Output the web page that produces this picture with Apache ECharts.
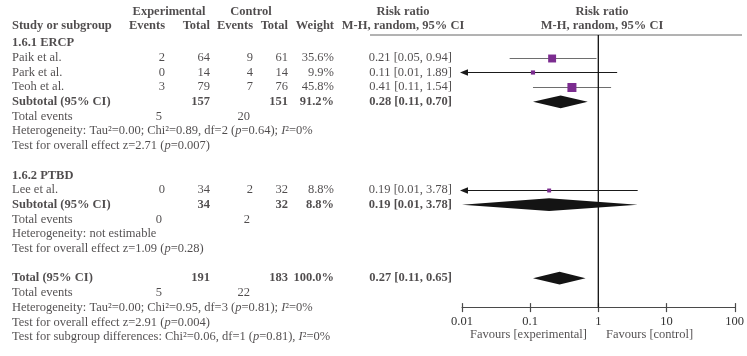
<!DOCTYPE html>
<html><head><meta charset="utf-8">
<script src="https://cdn.jsdelivr.net/npm/echarts@6/dist/echarts.min.js"></script>
<style>html,body{margin:0;padding:0;background:#fff}#c{width:747px;height:356px}</style>
</head><body><div id="c"></div>
<script>
// ---------- data ----------
const studies      = ['Paik et al.', 'Park et al.', 'Teoh et al.', 'Lee et al.'];
const studyGroup   = [0, 0, 0, 1];
const expEvents    = [2, 0, 3, 0];
const expTotal     = [64, 14, 79, 34];
const ctrlEvents   = [9, 4, 7, 2];
const ctrlTotal    = [61, 14, 76, 32];
const weights      = [35.6, 9.9, 45.8, 8.8];
const rr           = [0.21, 0.11, 0.41, 0.19];
const rrLow        = [0.05, 0.01, 0.11, 0.01];
const rrHigh       = [0.94, 1.89, 1.54, 3.78];

const groups          = ['1.6.1 ERCP', '1.6.2 PTBD'];
const groupExpEvents  = [5, 0];
const groupExpTotal   = [157, 34];
const groupCtrlEvents = [20, 2];
const groupCtrlTotal  = [151, 32];
const groupWeight     = [91.2, 8.8];
const groupRR         = [0.28, 0.19];
const groupLow        = [0.11, 0.01];
const groupHigh       = [0.70, 3.78];
const groupHeterogeneity = ['Heterogeneity: Tau²=0.00; Chi²=0.89, df=2 ({i|p}=0.64); {i|I}²=0%',
                            'Heterogeneity: not estimable'];
const groupEffect = ['Test for overall effect z=2.71 ({i|p}=0.007)',
                     'Test for overall effect z=1.09 ({i|p}=0.28)'];

const totalValues = {expEvents: 5, expTotal: 191, ctrlEvents: 22, ctrlTotal: 183, weight: 100.0, rr: 0.27, low: 0.11, high: 0.65};
const totalNotes = ['Heterogeneity: Tau²=0.00; Chi²=0.95, df=3 ({i|p}=0.81); {i|I}²=0%',
                    'Test for overall effect z=2.91 ({i|p}=0.004)',
                    'Test for subgroup differences: Chi²=0.06, df=1 ({i|p}=0.81), {i|I}²=0%'];
const tickLabels = ['0.01', '0.1', '1', '10', '100'];
const favourLabels = ['Favours [experimental]', 'Favours [control]'];

// ---------- layout ----------
const ROW_H = 14.7, ROW0 = 43, Y_MIN = -2.5, TABLE_MAX = 21, PLOT_MAX = 18;
const FONT = 'Liberation Serif', FS = 12.5, TXT = '#231f20';
const col = {study: 12, expEv: 165, expTot: 210, ctrlEv: 253, ctrlTot: 288, weight: 334, rr: 452,
             expHead: 169, ctrlHead: 251, rrHead: 403, plotHead: 602, totEvExp: 162, totEvCtrl: 250};
const gridTop = ROW0 + Y_MIN * ROW_H;

const fmt2 = v => v.toFixed(2);
const rrText = (e, l, h) => fmt2(e) + ' [' + fmt2(l) + ', ' + fmt2(h) + ']';

const texts = [];
function T(x, row, s, align, bold) {
  texts.push({value: [x, row], label: {formatter: s, align: align || 'left', fontWeight: bold ? 'bold' : 'normal'}});
}
// header
T(col.expHead, -2.15, 'Experimental', 'center', true);
T(col.ctrlHead, -2.15, 'Control', 'center', true);
T(col.rrHead, -2.15, 'Risk ratio', 'center', true);
T(col.plotHead, -2.15, 'Risk ratio', 'center', true);
T(col.study, -1.2, 'Study or subgroup', 'left', true);
T(col.expEv, -1.2, 'Events', 'right', true);
T(col.expTot, -1.2, 'Total', 'right', true);
T(col.ctrlEv, -1.2, 'Events', 'right', true);
T(col.ctrlTot, -1.2, 'Total', 'right', true);
T(col.weight, -1.2, 'Weight', 'right', true);
T(col.rrHead, -1.2, 'M-H, random, 95% CI', 'center', true);
T(col.plotHead, -1.2, 'M-H, random, 95% CI', 'center', true);

const studyMarks = [], diamondMarks = [];
let row = 0;
groups.forEach((g, gi) => {
  T(col.study, row, g, 'left', true);
  row++;
  studies.forEach((s, i) => {
    if (studyGroup[i] !== gi) return;
    T(col.study, row, s);
    T(col.expEv, row, String(expEvents[i]), 'right');
    T(col.expTot, row, String(expTotal[i]), 'right');
    T(col.ctrlEv, row, String(ctrlEvents[i]), 'right');
    T(col.ctrlTot, row, String(ctrlTotal[i]), 'right');
    T(col.weight, row, weights[i].toFixed(1) + '%', 'right');
    T(col.rr, row, rrText(rr[i], rrLow[i], rrHigh[i]), 'right');
    studyMarks.push([rr[i], row, rrLow[i], rrHigh[i], weights[i]]);
    row++;
  });
  T(col.study, row, 'Subtotal (95% CI)', 'left', true);
  T(col.expTot, row, String(groupExpTotal[gi]), 'right', true);
  T(col.ctrlTot, row, String(groupCtrlTotal[gi]), 'right', true);
  T(col.weight, row, groupWeight[gi].toFixed(1) + '%', 'right', true);
  T(col.rr, row, rrText(groupRR[gi], groupLow[gi], groupHigh[gi]), 'right', true);
  diamondMarks.push([groupRR[gi], row, groupLow[gi], groupHigh[gi]]);
  row++;
  T(col.study, row, 'Total events');
  T(col.totEvExp, row, String(groupExpEvents[gi]), 'right');
  T(col.totEvCtrl, row, String(groupCtrlEvents[gi]), 'right');
  row++;
  T(col.study, row, groupHeterogeneity[gi]); row++;
  T(col.study, row, groupEffect[gi]); row++;
  row++;
});
T(col.study, row, 'Total (95% CI)', 'left', true);
T(col.expTot, row, String(totalValues.expTotal), 'right', true);
T(col.ctrlTot, row, String(totalValues.ctrlTotal), 'right', true);
T(col.weight, row, totalValues.weight.toFixed(1) + '%', 'right', true);
T(col.rr, row, rrText(totalValues.rr, totalValues.low, totalValues.high), 'right', true);
diamondMarks.push([totalValues.rr, row, totalValues.low, totalValues.high]);
row++;
T(col.study, row, 'Total events');
T(col.totEvExp, row, String(totalValues.expEvents), 'right');
T(col.totEvCtrl, row, String(totalValues.ctrlEvents), 'right');
row++;
totalNotes.forEach(n => { T(col.study, row, n); row++; });
T(587, 19.85, favourLabels[0], 'right');
T(606, 19.85, favourLabels[1], 'left');

const HEADER_ROW = (35 - ROW0) / ROW_H;
const X_MIN = 0.01;
const tickValues = tickLabels.map(Number);

const chart = echarts.init(document.getElementById('c'), null, {renderer: 'canvas'});
const tickLabelFor = v => tickLabels[Math.round(Math.log10(v)) + 2] || '';
chart.setOption({
  animation: false,
  backgroundColor: '#fff',
  grid: [
    {left: 0, right: 0, top: gridTop, height: (TABLE_MAX - Y_MIN) * ROW_H},
    {left: 462, right: 6.5, top: gridTop, height: (PLOT_MAX - Y_MIN) * ROW_H}
  ],
  xAxis: [
    {gridIndex: 0, type: 'value', min: 0, max: 747, show: false},
    {gridIndex: 1, type: 'log', logBase: 10, min: 0.01, max: 100, splitNumber: 4, position: 'bottom',
     axisLine: {show: true, onZero: false, lineStyle: {color: '#4a4a4a', width: 1}},
     axisTick: {show: false},
     axisLabel: {fontFamily: FONT, fontSize: FS, color: '#333', margin: 8, formatter: tickLabelFor},
     splitLine: {show: false}}
  ],
  yAxis: [
    {gridIndex: 0, type: 'value', inverse: true, min: Y_MIN, max: TABLE_MAX, show: false},
    {gridIndex: 1, type: 'value', inverse: true, min: Y_MIN, max: PLOT_MAX, show: false}
  ],
  series: [
    {type: 'line', xAxisIndex: 0, yAxisIndex: 0, silent: true, symbol: 'none',
     lineStyle: {color: '#666', width: 1}, data: [[370, HEADER_ROW], [742, HEADER_ROW]]},
    {type: 'line', xAxisIndex: 1, yAxisIndex: 1, silent: true, symbol: 'none', clip: false,
     lineStyle: {color: '#111', width: 1.3}, data: [[1, HEADER_ROW], [1, PLOT_MAX]]},
    // axis ticks crossing the axis line
    {type: 'custom', xAxisIndex: 1, yAxisIndex: 1, silent: true, clip: false,
     encode: {x: 0, y: 1}, data: tickValues.map(v => [v, PLOT_MAX]),
     renderItem: (params, api) => {
       const p = api.coord([api.value(0), api.value(1)]);
       const x = Math.round(p[0]) + 0.5;
       return {type: 'line', shape: {x1: x, y1: p[1] - 4.5, x2: x, y2: p[1] + 4.5},
               style: {stroke: '#4a4a4a', lineWidth: 1.2}};
     }},
    {type: 'custom', xAxisIndex: 1, yAxisIndex: 1, silent: true, clip: false,
     encode: {x: [0, 2, 3], y: 1}, data: studyMarks,
     renderItem: (params, api) => {
       const est = api.value(0), r = api.value(1), lo = api.value(2), hi = api.value(3), w = api.value(4);
       const arrow = lo <= X_MIN;
       const pLo = api.coord([Math.max(lo, X_MIN), r]);
       const pHi = api.coord([hi, r]);
       const pE = api.coord([est, r]);
       const side = 1.33 * Math.sqrt(w);
       const y = Math.round(pE[1]) + 0.5;
       const lineColor = arrow ? '#1a1a1a' : '#6e6e6e';
       const children = [
         {type: 'line', shape: {x1: pLo[0] + (arrow ? 3 : 0), y1: y, x2: pHi[0], y2: y},
          style: {stroke: lineColor, lineWidth: 1.2}},
         {type: 'rect', shape: {x: pE[0] - side / 2, y: y - side / 2, width: side, height: side},
          style: {fill: '#7b2c8f'}}
       ];
       if (arrow) {
         children.push({type: 'polygon', shape: {points: [[pLo[0] - 2, y], [pLo[0] + 6, y - 3.2], [pLo[0] + 6, y + 3.2]]},
                        style: {fill: '#1a1a1a'}});
       }
       return {type: 'group', children};
     }},
    {type: 'custom', xAxisIndex: 1, yAxisIndex: 1, silent: true, clip: false,
     encode: {x: [0, 2, 3], y: 1}, data: diamondMarks,
     renderItem: (params, api) => {
       const est = api.value(0), r = api.value(1), lo = api.value(2), hi = api.value(3);
       const pLo = api.coord([Math.max(lo, X_MIN), r]);
       const pHi = api.coord([hi, r]);
       const pE = api.coord([est, r]);
       const h = 6.4;
       return {type: 'polygon', shape: {points: [[pLo[0], pE[1]], [pE[0], pE[1] - h], [pHi[0], pE[1]], [pE[0], pE[1] + h]]},
               style: {fill: '#141414'}};
     }},
    {type: 'scatter', xAxisIndex: 0, yAxisIndex: 0, silent: true, symbolSize: 0, clip: false,
     label: {show: true, position: 'inside', verticalAlign: 'middle', fontFamily: FONT, fontSize: FS, color: TXT,
             rich: {i: {fontStyle: 'italic', fontFamily: FONT, fontSize: FS, color: TXT}}},
     data: texts}
  ]
});
</script>
</body></html>
